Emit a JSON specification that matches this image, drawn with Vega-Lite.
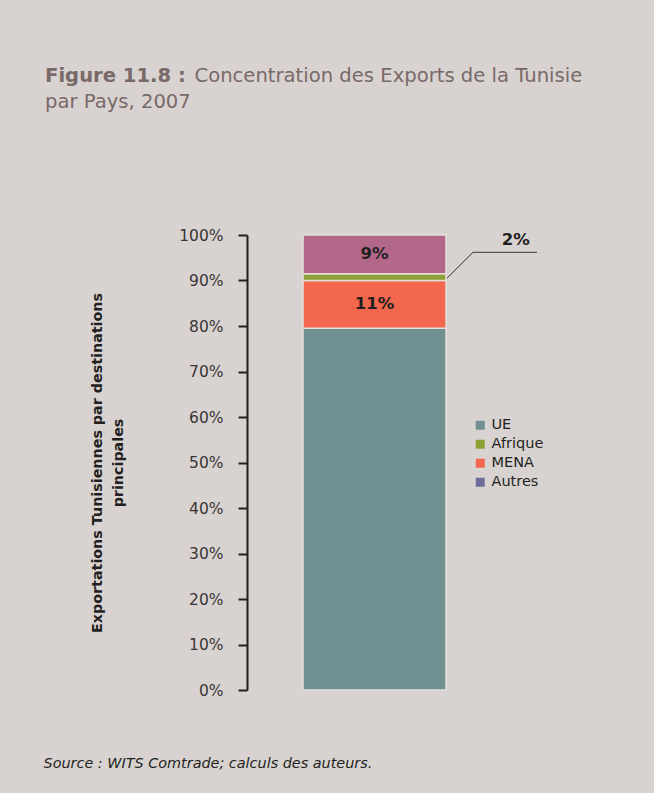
{
  "$schema": "https://vega.github.io/schema/vega-lite/v6.json",
  "autosize": "none",
  "width": 400,
  "height": 455,
  "padding": {"left": 247, "top": 235, "right": 7, "bottom": 103},
  "background": "#d8d3d0",
  "config": {
    "view": {"stroke": null},
    "font": "DejaVu Sans"
  },
  "title": {
    "text": "Figure 11.8 :",
    "subtitle": ["\u200b\u00a0\u00a0\u00a0\u00a0\u00a0\u00a0\u00a0\u00a0\u00a0\u00a0\u00a0\u00a0\u00a0\u00a0\u00a0\u00a0\u00a0\u00a0\u00a0\u00a0\u00a0\u00a0\u00a0\u00a0Concentration des Exports de la Tunisie", "par Pays, 2007"],
    "anchor": "start",
    "frame": "group",
    "dx": -202,
    "offset": 115,
    "font": "DejaVu Sans",
    "fontSize": 19.6,
    "fontWeight": "bold",
    "color": "#7a6969",
    "subtitleFont": "DejaVu Sans",
    "subtitleFontSize": 19.6,
    "subtitleFontWeight": "normal",
    "subtitleColor": "#7a6969",
    "subtitleLineHeight": 26,
    "subtitlePadding": -19.6
  },
  "data": {
    "values": [
      {"Pays": "UE", "rang": 1, "valeur": 79.5, "etiquette": "80%"},
      {"Pays": "MENA", "rang": 2, "valeur": 10.5, "etiquette": "11%"},
      {"Pays": "Afrique", "rang": 3, "valeur": 1.5, "etiquette": "2%"},
      {"Pays": "Autres", "rang": 4, "valeur": 8.5, "etiquette": "9%"}
    ]
  },
  "transform": [
    {"stack": "valeur", "groupby": [], "sort": [{"field": "rang", "order": "ascending"}], "as": ["v0", "v1"]},
    {"calculate": "(datum.v0 + datum.v1) / 2", "as": "milieu"}
  ],
  "layer": [
    {
      "mark": {"type": "bar", "stroke": "#e4dfdc", "strokeWidth": 1.5},
      "encoding": {
        "x": {"datum": 1.4, "type": "quantitative", "scale": {"domain": [0, 10], "nice": false, "zero": false},
          "axis": {"domain": false, "ticks": false, "labels": false, "grid": false,
            "title": "Source : WITS Comtrade; calculs des auteurs.",
            "titleFontStyle": "italic", "titleFontWeight": "normal", "titleFontSize": 14.4,
            "titleColor": "#231f20", "titleX": -204, "titleY": 77, "titleAlign": "left",
            "titleBaseline": "alphabetic", "titleAnchor": "start"}},
        "x2": {"datum": 4.975},
        "y": {"field": "v0", "type": "quantitative",
          "scale": {"domain": [0, 100], "nice": false},
          "axis": {
            "values": [0, 10, 20, 30, 40, 50, 60, 70, 80, 90, 100],
            "labelExpr": "datum.value + '%'",
            "grid": false,
            "domainColor": "#231f20", "domainWidth": 2,
            "tickColor": "#231f20", "tickWidth": 2, "tickSize": 9,
            "labelFontSize": 15.5, "labelColor": "#3a3536", "labelPadding": 15,
            "title": ["Exportations Tunisiennes par destinations", "principales"],
            "titleFontSize": 14.3, "titleFontWeight": "bold", "titleColor": "#231f20",
            "titleLineHeight": 21, "titlePadding": 53
          }},
        "y2": {"field": "v1"},
        "color": {
          "condition": {"test": "datum.Pays === 'Autres'", "value": "#b3688a"},
          "field": "Pays", "type": "nominal",
          "scale": {"domain": ["UE", "Afrique", "MENA", "Autres"], "range": ["#6f8f90", "#8d9f35", "#f2674e", "#6a6e98"]},
          "legend": {
            "title": null, "orient": "none", "legendX": 226, "legendY": 183,
            "symbolType": "square", "symbolSize": 81, "symbolStrokeWidth": 0,
            "labelFontSize": 14.5, "labelColor": "#231f20", "labelOffset": 4, "rowPadding": 4
          }
        }
      }
    },
    {
      "transform": [{"filter": "datum.Pays === 'MENA' || datum.Pays === 'Autres'"}],
      "mark": {"type": "text", "fontSize": 16.5, "fontWeight": "bold", "color": "#231f20", "baseline": "middle"},
      "encoding": {
        "x": {"datum": 3.19, "type": "quantitative"},
        "y": {"field": "milieu", "type": "quantitative"},
        "text": {"field": "etiquette"}
      }
    },
    {
      "transform": [{"filter": "datum.Pays === 'Afrique'"}],
      "mark": {"type": "text", "fontSize": 16.5, "fontWeight": "bold", "color": "#231f20", "baseline": "middle"},
      "encoding": {
        "x": {"datum": 6.72, "type": "quantitative"},
        "y": {"datum": 99.0, "type": "quantitative"},
        "text": {"field": "etiquette"}
      }
    },
    {
      "data": {"values": [{}]},
      "mark": {"type": "rule", "color": "#333333", "strokeWidth": 1},
      "encoding": {
        "x": {"datum": 5.0, "type": "quantitative"},
        "x2": {"datum": 5.65},
        "y": {"datum": 90.5, "type": "quantitative"},
        "y2": {"datum": 96.2}
      }
    },
    {
      "data": {"values": [{}]},
      "mark": {"type": "rule", "color": "#555555", "strokeWidth": 1.2},
      "encoding": {
        "x": {"datum": 5.65, "type": "quantitative"},
        "x2": {"datum": 7.25},
        "y": {"datum": 96.2, "type": "quantitative"}
      }
    }
  ]
}
